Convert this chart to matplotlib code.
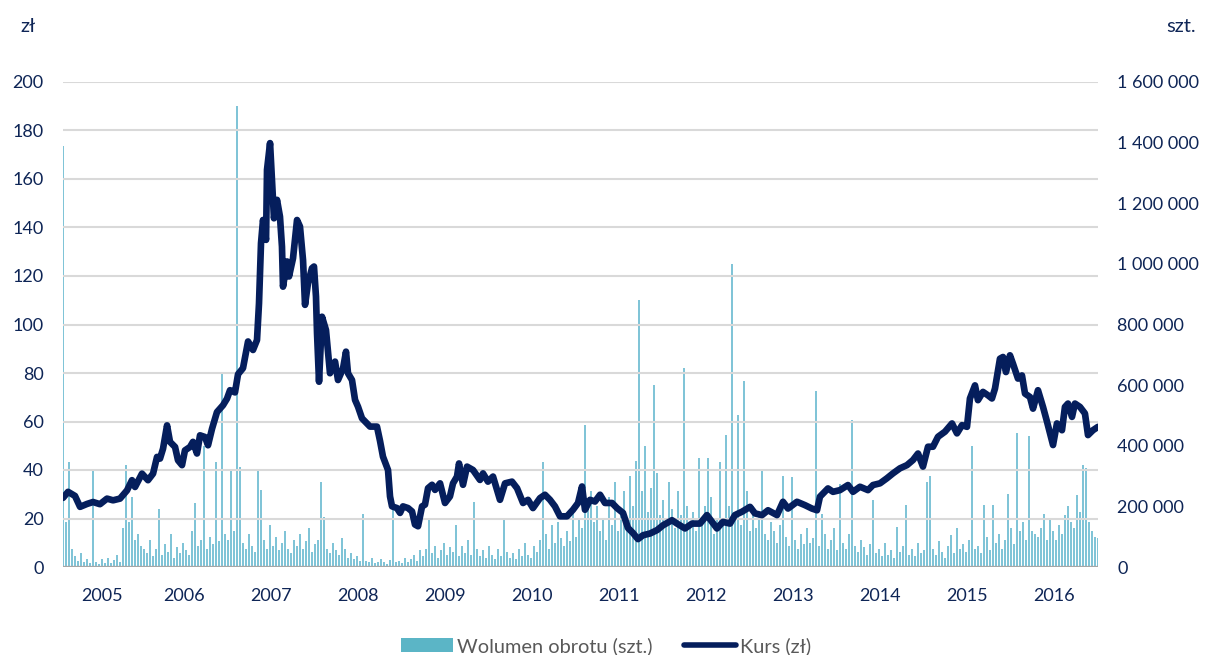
import numpy as np
import matplotlib
matplotlib.use("Agg")
import matplotlib.pyplot as plt
from matplotlib.patches import Patch
from matplotlib.lines import Line2D

plt.rcParams['font.family'] = ['Lato', 'DejaVu Sans']

# Closing price (zł), sampled at turning points; time as decimal year
price_t = [
    2005.109, 2005.167, 2005.247, 2005.305, 2005.385, 2005.454, 2005.534, 2005.615,
    2005.684, 2005.764, 2005.845, 2005.902, 2005.937, 2006.017, 2006.086, 2006.144,
    2006.190, 2006.224, 2006.259, 2006.305, 2006.339, 2006.397, 2006.431, 2006.477,
    2006.511, 2006.569, 2006.603, 2006.649, 2006.684, 2006.741, 2006.776, 2006.822,
    2006.879, 2006.948, 2006.994, 2007.029, 2007.086, 2007.121, 2007.178, 2007.236,
    2007.293, 2007.339, 2007.362, 2007.385, 2007.408, 2007.443, 2007.454, 2007.489,
    2007.511, 2007.534, 2007.569, 2007.603, 2007.626, 2007.638, 2007.684, 2007.707,
    2007.753, 2007.799, 2007.833, 2007.868, 2007.891, 2007.925, 2007.971, 2007.994,
    2008.017, 2008.029, 2008.052, 2008.086, 2008.132, 2008.178, 2008.236, 2008.270,
    2008.328, 2008.362, 2008.385, 2008.431, 2008.466, 2008.500, 2008.546, 2008.638,
    2008.718, 2008.753, 2008.787, 2008.845, 2008.868, 2008.891, 2008.948, 2008.983,
    2009.017, 2009.075, 2009.121, 2009.155, 2009.190, 2009.236, 2009.270, 2009.305,
    2009.351, 2009.385, 2009.443, 2009.500, 2009.557, 2009.592, 2009.638, 2009.661,
    2009.707, 2009.753, 2009.822, 2009.902, 2009.937, 2009.994, 2010.052, 2010.132,
    2010.190, 2010.270, 2010.328, 2010.397, 2010.454, 2010.511, 2010.592, 2010.649,
    2010.707, 2010.764, 2010.822, 2010.902, 2010.971, 2011.029, 2011.075, 2011.109,
    2011.167, 2011.224, 2011.282, 2011.339, 2011.420, 2011.477, 2011.546, 2011.603,
    2011.661, 2011.718, 2011.776, 2011.856, 2011.937, 2012.006, 2012.109, 2012.167,
    2012.259, 2012.339, 2012.431, 2012.511, 2012.569, 2012.626, 2012.695, 2012.776,
    2012.833, 2012.914, 2013.006, 2013.063, 2013.144, 2013.213, 2013.316, 2013.385,
    2013.443, 2013.546, 2013.638, 2013.718, 2013.776, 2013.810, 2013.902, 2013.960,
    2014.040, 2014.132, 2014.190, 2014.270, 2014.362, 2014.420, 2014.500, 2014.580,
    2014.649, 2014.730, 2014.810, 2014.879, 2014.937, 2014.994, 2015.052, 2015.109,
    2015.167, 2015.247, 2015.328, 2015.385, 2015.443, 2015.500, 2015.534, 2015.592,
    2015.626, 2015.684, 2015.741, 2015.787, 2015.822, 2015.879, 2015.914, 2015.948,
    2015.994, 2016.029, 2016.086, 2016.132, 2016.167, 2016.224, 2016.259, 2016.316,
    2016.374, 2016.420, 2016.454, 2016.489, 2016.534, 2016.592, 2016.626, 2016.661,
    2016.707, 2016.741, 2016.799, 2016.856, 2016.891, 2016.948, 2017.006,
]
price = [
    28.5, 31.0, 29.3, 24.8, 26.0, 26.8, 25.9, 28.2,
    27.5, 28.2, 31.6, 35.8, 33.0, 38.5, 35.8, 38.5,
    45.4, 44.7, 48.8, 58.4, 51.6, 49.5, 44.0, 42.0,
    48.1, 49.5, 51.6, 46.8, 54.3, 53.6, 50.2, 57.0,
    63.9, 66.7, 69.4, 72.9, 72.0, 79.5, 82.0, 93.0,
    89.5, 93.6, 108.7, 133.5, 143.1, 134.9, 163.8, 174.8,
    159.6, 143.8, 151.4, 144.5, 132.1, 115.6, 126.0, 119.8,
    127.3, 143.1, 140.4, 126.6, 108.1, 117.0, 123.2, 123.9,
    111.5, 96.4, 76.4, 103.2, 97.7, 79.9, 84.7, 77.1,
    81.9, 88.8, 79.9, 77.1, 68.9, 66.1, 61.3, 57.9,
    57.9, 52.0, 45.5, 40.0, 29.1, 25.0, 24.3, 22.3,
    25.0, 24.3, 22.9, 17.5, 16.8, 25.0, 25.7, 32.5,
    33.9, 31.8, 34.5, 26.4, 29.1, 34.5, 37.3, 42.7,
    33.9, 41.4, 40.0, 35.9, 38.6, 35.2, 37.3, 27.7,
    34.5, 35.2, 32.5, 26.4, 27.7, 24.3, 28.4, 29.8,
    27.7, 25.0, 20.9, 20.9, 23.6, 26.4, 33.2, 23.6,
    27.7, 27.0, 29.8, 26.4, 26.4, 24.3, 22.3, 16.1,
    14.0, 11.5, 13.1, 13.8, 15.2, 17.2, 19.3, 17.9,
    15.9, 17.9, 17.9, 21.4, 18.6, 15.9, 18.6, 17.9,
    21.4, 22.8, 24.8, 22.1, 21.4, 23.4, 21.4, 26.9,
    24.1, 26.9, 25.5, 24.1, 23.4, 29.0, 32.4, 31.0,
    31.7, 33.8, 31.0, 33.1, 31.7, 33.8, 34.5, 36.6,
    38.6, 40.7, 42.0, 44.1, 46.8, 41.4, 49.6, 49.6,
    53.7, 55.8, 59.2, 55.1, 58.5, 57.8, 69.5, 74.9,
    68.8, 72.2, 70.8, 69.5, 73.6, 85.9, 86.6, 80.4,
    87.3, 83.8, 77.7, 79.0, 71.5, 70.1, 65.3, 72.9,
    66.0, 59.9, 55.1, 50.3, 59.2, 56.4, 66.0, 67.4,
    61.9, 67.4, 66.0, 63.3, 54.4, 56.4, 57.8,
]

# Trading volume (thousand shares), evenly spaced over the same period
volume_k = [
    1390, 150, 346, 60, 35, 20, 45, 15, 25, 12,
    320, 18, 10, 25, 14, 30, 12, 22, 40, 18,
    130, 336, 150, 230, 90, 110, 70, 60, 45, 90,
    35, 60, 190, 40, 75, 50, 110, 30, 65, 45,
    80, 55, 40, 120, 210, 70, 90, 400, 60, 100,
    75, 345, 85, 640, 110, 90, 320, 120, 1520, 330,
    80, 60, 110, 70, 50, 320, 254, 90, 60, 140,
    70, 100, 55, 80, 120, 60, 45, 90, 70, 110,
    60, 85, 130, 50, 75, 90, 280, 165, 60, 45,
    80, 55, 40, 95, 60, 30, 45, 25, 35, 20,
    175, 20, 15, 30, 12, 18, 25, 15, 10, 22,
    190, 15, 20, 12, 30, 18, 25, 40, 20, 55,
    35, 60, 160, 45, 70, 30, 55, 80, 40, 65,
    50, 140, 35, 70, 45, 90, 40, 215, 60, 35,
    55, 30, 70, 40, 25, 60, 35, 160, 50, 30,
    45, 25, 60, 35, 80, 40, 30, 70, 50, 90,
    345, 110, 60, 140, 80, 150, 95, 70, 120, 85,
    180, 100, 160, 130, 470, 210, 250, 150, 200, 120,
    160, 90, 230, 140, 280, 120, 180, 250, 150, 300,
    200, 350, 880, 250, 400, 180, 260, 600, 310, 170,
    220, 150, 280, 190, 130, 250, 170, 656, 200, 140,
    180, 120, 360, 150, 200, 360, 230, 110, 160, 346,
    150, 435, 200, 1000, 180, 500, 140, 614, 250, 120,
    200, 130, 170, 320, 110, 90, 150, 120, 80, 140,
    300, 100, 70, 297, 90, 60, 110, 75, 130, 80,
    95, 580, 70, 176, 110, 60, 90, 130, 55, 275,
    80, 60, 110, 485, 70, 50, 90, 65, 40, 75,
    220, 45, 60, 35, 80, 40, 55, 30, 132, 50,
    70, 204, 40, 60, 35, 80, 45, 55, 280, 300,
    60, 40, 85, 50, 30, 70, 105, 45, 130, 60,
    75, 50, 90, 400, 60, 70, 45, 205, 100, 55,
    204, 80, 110, 60, 90, 240, 130, 75, 442, 120,
    150, 90, 432, 120, 110, 100, 130, 176, 90, 160,
    120, 90, 140, 110, 170, 200, 150, 130, 236, 180,
    335, 325, 150, 120, 100, 95,
]

years = list(range(2005, 2017))
price_ticks = [0, 20, 40, 60, 80, 100, 120, 140, 160, 180, 200]
volume_ticks = [0, 200000, 400000, 600000, 800000, 1000000, 1200000, 1400000, 1600000]

NAVY = '#051e5c'
TEAL = '#4bacc6'
TEXT = '#0e2556'
GRID = '#d9d9d9'

fig = plt.figure(figsize=(12.05, 6.55), dpi=100)
ax = fig.add_axes([63 / 1205, 1 - 567 / 655, 1035 / 1205, 485 / 655])
ax2 = ax.twinx()

t0, t1 = price_t[0], price_t[-1]
vol_t = np.linspace(t0, t1, len(volume_k))
step = (t1 - t0) / (len(volume_k) - 1)
ax2.bar(vol_t, np.array(volume_k) * 1000, width=step * 0.6, color=TEAL,
        alpha=0.7, linewidth=0)

ax.plot(price_t, price, color=NAVY, lw=4.8, solid_joinstyle='round',
        solid_capstyle='round', zorder=5)

ax.set_zorder(ax2.get_zorder() + 1)
ax.patch.set_visible(False)

ax.set_xlim(t0, t1)
ax.set_ylim(0, 200)
ax2.set_ylim(0, 1600000)

ax.set_yticks(price_ticks)
ax.set_yticklabels([str(v) for v in price_ticks])
ax2.set_yticks(volume_ticks)
ax2.set_yticklabels([f"{v:,}".replace(",", " ") for v in volume_ticks])

ax.yaxis.grid(True, color=GRID, lw=1.5)
ax.set_axisbelow(True)

for a in (ax, ax2):
    for s in ('top', 'left', 'right', 'bottom'):
        a.spines[s].set_visible(False)
    a.tick_params(axis='both', length=0, labelsize=13, colors=TEXT)
ax.axhline(0, color='#a6a6a6', lw=1.6, zorder=6)

ax.tick_params(axis='y', pad=14)
ax2.tick_params(axis='y', pad=14)

# year labels centred on each year's visible span
centers = [(max(y, t0) + min(y + 1, t1)) / 2 for y in years]
ax.set_xticks(centers)
ax.set_xticklabels([str(y) for y in years])
ax.tick_params(axis='x', pad=15)

fig.text(20 / 1205, 1 - 27 / 655, 'zł', fontsize=14.5, color=TEXT, va='center')
fig.text(1196 / 1205, 1 - 27 / 655, 'szt.', fontsize=14.5, color=TEXT,
         va='center', ha='right')

handles = [Patch(facecolor='#5bb5c6', edgecolor='none'),
           Line2D([0], [0], color=NAVY, lw=4, solid_capstyle='round')]
fig.legend(handles, ['Wolumen obrotu (szt.)', 'Kurs (zł)'], ncol=2,
           loc='center', bbox_to_anchor=(606 / 1205, 1 - 646 / 655),
           frameon=False, fontsize=14.4, labelcolor='#595959',
           handlelength=2.6, handleheight=0.75, handletextpad=0.2,
           columnspacing=1.6)

fig.savefig('out.png', dpi=100)
